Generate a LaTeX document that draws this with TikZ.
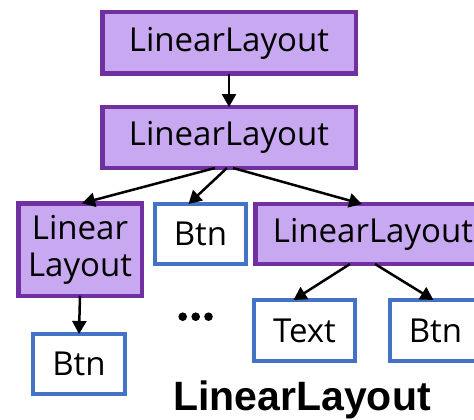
\documentclass[tikz,border=0pt]{standalone}
\usepackage{fontspec}
\setmainfont{Open Sans}
\newfontfamily\lblfont{Liberation Sans}
\usetikzlibrary{arrows.meta}
\definecolor{pfill}{HTML}{C8A8F0}
\definecolor{pline}{HTML}{7030A0}
\definecolor{bline}{HTML}{4472C4}
\begin{document}
\begin{tikzpicture}[x=1pt,y=-1pt,
  every node/.style={inner sep=0pt,outer sep=0pt,font=\fontsize{33}{37}\selectfont},
  pbox/.style={draw=pline,fill=pfill,line width=4.5pt,rectangle},
  bbox/.style={draw=bline,fill=white,line width=4pt,rectangle},
  arr/.style={line width=2.5pt,-{Triangle[length=13pt,width=14pt]}}]
\useasboundingbox (0,0) rectangle (474,420);
\clip (0,0) rectangle (474,420);
\node[pbox,minimum width=253.5pt,minimum height=61.5pt] (b1) at (229,43) {LinearLayout};
\node[pbox,minimum width=253.5pt,minimum height=61pt] (b2) at (229,137.5) {LinearLayout};
\node[pbox,minimum width=123.5pt,minimum height=92.5pt,align=center] (ll1) at (80,249.5) {Linear\\Layout};
\node[bbox,minimum width=91pt,minimum height=60pt] (btnm) at (200.5,234) {Btn};
\node[pbox,minimum width=235.5pt,minimum height=60pt] (ll2) at (373,234) {LinearLayout};
\node[bbox,minimum width=92pt,minimum height=60pt] (btn1) at (79,364) {Btn};
\node[bbox,minimum width=101pt,minimum height=61pt] (txt) at (304.5,330.5) {Text};
\node[bbox,minimum width=91pt,minimum height=61pt] (btn2) at (435.5,330.5) {Btn};
\foreach \x [count=\i] in {182.7,195.7,208.5} \fill (\x,316.7) circle (4.3pt);
\node[font=\lblfont\bfseries\fontsize{41}{44}\selectfont,anchor=base] (lbl) at (302,410) {LinearLayout};
\draw[arr] (b1.south) -- (b2.north);
\draw[arr] ([xshift=-14pt]b2.south) -- ([xshift=2pt]ll1.north);
\draw[arr] ([xshift=-2pt]b2.south) -- ([xshift=-12pt]btnm.north);
\draw[arr] ([xshift=4pt]b2.south) -- ([xshift=-11pt]ll2.north);
\draw[arr] (ll1.south) -- (btn1.north);
\draw[arr] ([xshift=-23pt]ll2.south) -- ([xshift=-11pt]txt.north);
\draw[arr] ([xshift=2pt]ll2.south) -- ([xshift=-2pt]btn2.north);
\end{tikzpicture}
\end{document}
